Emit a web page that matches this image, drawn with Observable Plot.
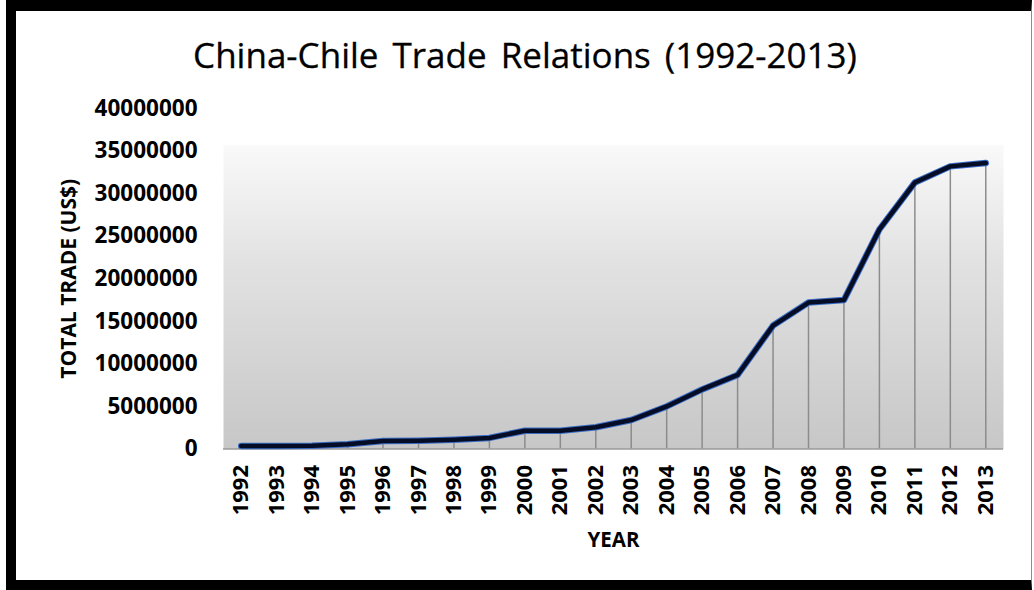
<!DOCTYPE html>
<html>
<head>
<meta charset="utf-8">
<script src="https://cdn.jsdelivr.net/npm/d3@7"></script>
<script src="https://cdn.jsdelivr.net/npm/@observablehq/plot@0.6"></script>
<style>
  html, body { margin: 0; padding: 0; background: #fff; }
  #page { position: relative; width: 1034px; height: 590px; overflow: hidden; background: #fff; }
  #frame { position: absolute; left: 6px; top: 0; width: 1015px; height: 569px;
           border-left: 10px solid #000; border-top: 11px solid #000; border-bottom: 10px solid #000;
           border-right: 1px solid #8c8c8c; box-sizing: content-box; }
  #title { position: absolute; left: 16px; width: 1018px; top: 37px; text-align: center;
           font-family: "Open Sans", sans-serif; font-size: 35px; line-height: 1; color: #000;
           word-spacing: 5px; -webkit-text-stroke: 0.3px #000; }
  #chart { position: absolute; left: 0; top: 90px; }
</style>
</head>
<body>
<div id="page">
  <div id="frame"></div>
  <div id="title">China-Chile Trade Relations (1992-2013)</div>
  <div id="chart"></div>
</div>
<script>
const years = ["1992","1993","1994","1995","1996","1997","1998","1999","2000","2001","2002",
               "2003","2004","2005","2006","2007","2008","2009","2010","2011","2012","2013"];
const totalTrade = [350000, 350000, 380000, 550000, 950000, 980000, 1100000, 1300000, 2150000, 2150000, 2550000,
                    3400000, 5000000, 7000000, 8700000, 14500000, 17200000, 17500000, 25800000, 31300000, 33200000, 33600000];
const yTicks = [0, 5000000, 10000000, 15000000, 20000000, 25000000, 30000000, 35000000, 40000000];
const yLabel = "TOTAL TRADE (US$)";
const xLabel = "YEAR";

const data = years.map((year, i) => ({year, value: totalTrade[i]}));

const defs = () => {
  const d = d3.create("svg:defs");
  const g = d.append("linearGradient").attr("id", "bgGrad").attr("x1", 0).attr("y1", 0).attr("x2", 0).attr("y2", 1);
  [[0, "#ffffff"], [0.105, "#ffffff"], [0.11, "#f9f9f9"], [0.45, "#e2e2e2"], [1, "#c7c7c7"]]
    .forEach(([o, c]) => g.append("stop").attr("offset", o).attr("stop-color", c));
  return d.node();
};

const chart = Plot.plot({
  width: 1034,
  height: 490,
  marginLeft: 223,
  marginRight: 31,
  marginTop: 18,
  marginBottom: 131.5,
  style: {fontFamily: "'Open Sans', sans-serif", fontSize: "22px", fontWeight: "bold", color: "#000", background: "transparent", overflow: "visible"},
  x: {type: "band", domain: years, padding: 0, round: false},
  y: {domain: [0, 40000000]},
  marks: [
    defs,
    Plot.frame({fill: "url(#bgGrad)", stroke: null}),
    Plot.ruleX(data, {x: "year", y1: 0, y2: "value", stroke: "#8c8c8c", strokeWidth: 1.5}),
    Plot.ruleY([0], {stroke: "#9a9a9a", strokeWidth: 1.5}),
    Plot.line(data, {x: "year", y: "value", stroke: "#3a6cc4", strokeWidth: 6.5, strokeLinejoin: "round", strokeLinecap: "round"}),
    Plot.line(data, {x: "year", y: "value", stroke: "#050c26", strokeWidth: 4.5, strokeLinejoin: "round", strokeLinecap: "round"}),
    Plot.axisY({ticks: yTicks, tickFormat: d3.format("d"), tickSize: 0, tickPadding: 26, label: null, fontSize: 22.5, fontWeight: "bold"}),
    Plot.axisX({tickRotate: -90, tickSize: 0, tickPadding: 16, label: null, fontSize: 22, fontWeight: "bold"}),
    Plot.text([yLabel], {frameAnchor: "left", dx: -154, rotate: -90, text: d => d, fontSize: 21, fontWeight: "bold", lineAnchor: "middle", textAnchor: "middle"}),
    Plot.text([xLabel], {frameAnchor: "bottom", dy: 91, text: d => d, fontSize: 20.5, fontWeight: "bold", lineAnchor: "middle", textAnchor: "middle"})
  ]
});
document.getElementById("chart").appendChild(chart);
</script>
</body>
</html>
